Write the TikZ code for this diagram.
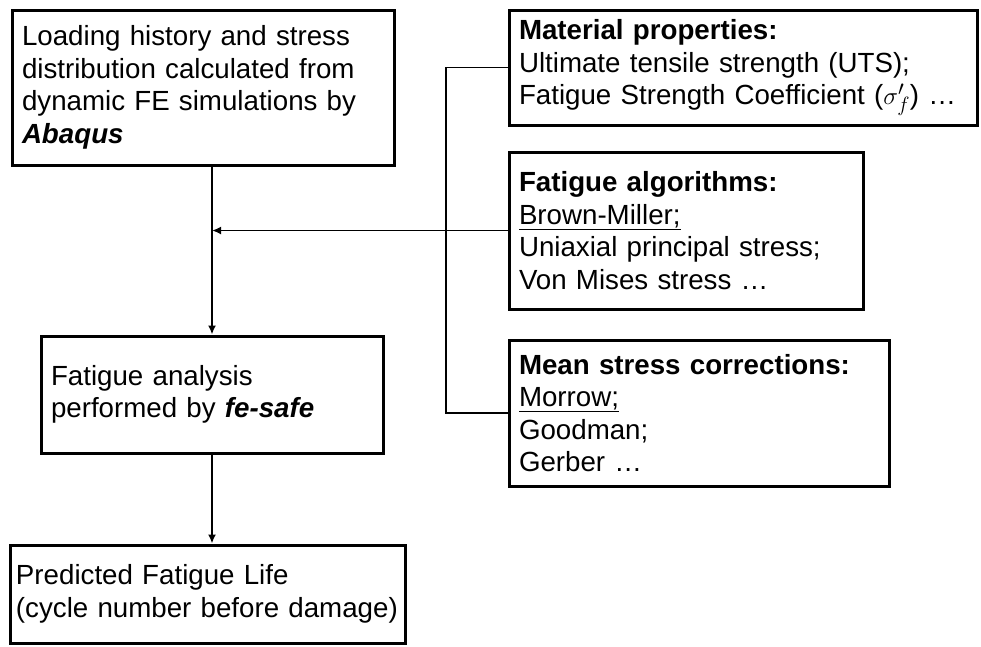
\documentclass[tikz,border=0pt]{standalone}
\usepackage{fontspec}
\setmainfont{Liberation Sans}
\usetikzlibrary{arrows.meta}

\begin{document}
\begin{tikzpicture}[x=1pt,y=-1pt,
		box/.style={draw,line width=3pt,align=left,inner xsep=10pt,inner ysep=4pt,
			font=\fontsize{27.7pt}{32.5pt}\selectfont},
		link/.style={line width=1.8pt},
		arrow/.style={link,-{Latex[length=9pt,width=8pt]}}]
		\useasboundingbox (0,0) rectangle (981,646);
		% left column
		\node[box,text width=362pt,minimum height=155pt] (load) at (203,87.5)
			{Loading history and stress\\distribution calculated from\\dynamic FE simulations by\\\textbf{\textit{Abaqus}}};
		\node[box,text width=322pt,minimum height=117pt] (fatigue) at (212,394.5)
			{Fatigue analysis\\performed by \textbf{\textit{fe-safe}}};
		\node[box,text width=383pt,inner xsep=6pt,minimum height=98pt] (life) at (207.5,594)
			{Predicted Fatigue Life\\(cycle number before damage)};
		% right column
		\node[box,text width=448pt,minimum height=115pt] (material) at (743,67.5)
			{\textbf{Material properties:}\\Ultimate tensile strength (UTS);\\Fatigue Strength Coefficient ($\sigma_f'$) …};
		\node[box,text width=334pt,minimum height=157pt] (algorithm) at (686,230.5)
			{\textbf{Fatigue algorithms:}\\\underline{Brown-Miller;}\\Uniaxial principal stress;\\Von Mises stress …};
		\node[box,text width=360pt,minimum height=146pt] (meanstress) at (699,413)
			{\textbf{Mean stress corrections:}\\\underline{Morrow;}\\Goodman;\\Gerber …};
		% connectors
		\coordinate (rail) at (446,0);
		\coordinate (merge) at (fatigue.north |- algorithm.west);
		\draw[arrow] (load.south -| fatigue.north) -- (fatigue.north);
		\draw[arrow] (fatigue.south) -- (fatigue.south |- life.north);
		\draw[arrow] (algorithm.west) -- (merge);
		\draw[link] (material.west) -- (material.west -| rail) |- (meanstress.west);
\end{tikzpicture}
\end{document}
